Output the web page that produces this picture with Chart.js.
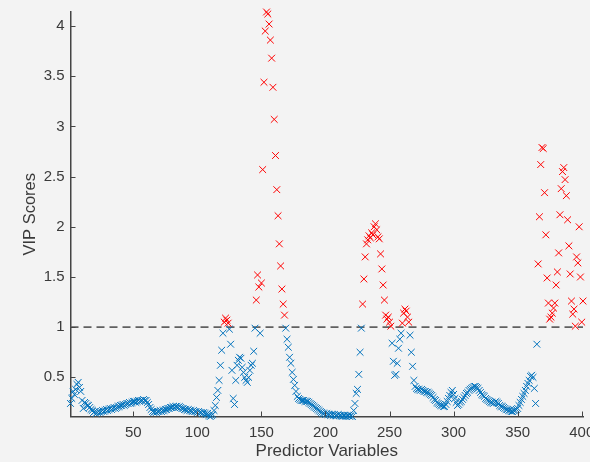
<!DOCTYPE html>
<html lang="en">
<head>
<meta charset="UTF-8">
<title>VIP Scores</title>
<style>
  html, body { margin: 0; padding: 0; background: #f3f3f3; }
  canvas { display: block; }
</style>
</head>
<body>
<canvas id="canvas" width="590" height="462"></canvas>

<script src="https://cdn.jsdelivr.net/npm/chart.js@4.4.1/dist/chart.umd.min.js"></script>
<script>
// VIP score of each predictor variable (index 1..401)
const vip = [
  0.24, 0.29, 0.36, 0.33, 0.38, 0.43, 0.45, 0.40, 0.36, 0.27,
  0.19, 0.25, 0.24, 0.22, 0.22, 0.20, 0.18, 0.17, 0.15, 0.16,
  0.14, 0.15, 0.16, 0.15, 0.16, 0.17, 0.16, 0.17, 0.18, 0.17,
  0.18, 0.19, 0.18, 0.19, 0.20, 0.19, 0.20, 0.21, 0.21, 0.22,
  0.22, 0.23, 0.22, 0.23, 0.24, 0.24, 0.25, 0.24, 0.25, 0.26,
  0.26, 0.25, 0.26, 0.27, 0.26, 0.27, 0.27, 0.28, 0.27, 0.27,
  0.25, 0.23, 0.20, 0.18, 0.16, 0.15, 0.16, 0.15, 0.16, 0.16,
  0.17, 0.16, 0.17, 0.17, 0.18, 0.18, 0.19, 0.19, 0.20, 0.20,
  0.21, 0.20, 0.21, 0.21, 0.20, 0.21, 0.20, 0.19, 0.19, 0.18,
  0.18, 0.17, 0.18, 0.17, 0.17, 0.16, 0.17, 0.16, 0.16, 0.15,
  0.16, 0.15, 0.15, 0.14, 0.15, 0.14, 0.13, 0.14, 0.12, 0.11,
  0.12, 0.13, 0.17, 0.22, 0.30, 0.37, 0.47, 0.62, 0.77, 0.94,
  1.05, 1.09, 1.07, 1.04, 0.98, 0.83, 0.57, 0.29, 0.23, 0.47,
  0.62, 0.67, 0.70, 0.69, 0.60, 0.55, 0.50, 0.47, 0.45, 0.50,
  0.57, 0.62, 0.64, 0.76, 0.99, 1.27, 1.52, 1.40, 0.94, 1.44,
  2.57, 3.44, 3.95, 4.14, 4.12, 4.02, 3.86, 3.68, 3.39, 3.07,
  2.71, 2.37, 2.11, 1.83, 1.61, 1.38, 1.23, 1.12, 0.99, 0.88,
  0.80, 0.70, 0.64, 0.55, 0.48, 0.42, 0.36, 0.31, 0.29, 0.28,
  0.27, 0.27, 0.27, 0.26, 0.26, 0.26, 0.25, 0.24, 0.23, 0.22,
  0.21, 0.20, 0.19, 0.18, 0.17, 0.16, 0.15, 0.14, 0.14, 0.13,
  0.14, 0.13, 0.13, 0.12, 0.13, 0.12, 0.13, 0.12, 0.12, 0.13,
  0.12, 0.12, 0.11, 0.12, 0.12, 0.11, 0.12, 0.12, 0.11, 0.12,
  0.11, 0.17, 0.24, 0.34, 0.38, 0.53, 0.75, 0.99, 1.23, 1.48,
  1.70, 1.83, 1.87, 1.91, 1.89, 1.94, 1.92, 2.00, 2.03, 1.97,
  1.90, 1.88, 1.73, 1.58, 1.42, 1.27, 1.12, 1.08, 1.10, 1.05,
  1.01, 0.84, 0.66, 0.52, 0.53, 0.64, 0.79, 0.88, 0.94, 1.04,
  1.14, 1.18, 1.16, 1.10, 1.05, 0.92, 0.75, 0.61, 0.47, 0.41,
  0.39, 0.38, 0.38, 0.37, 0.38, 0.37, 0.36, 0.36, 0.35, 0.35,
  0.34, 0.33, 0.32, 0.30, 0.28, 0.27, 0.25, 0.24, 0.23, 0.22,
  0.22, 0.21, 0.21, 0.23, 0.26, 0.29, 0.32, 0.35, 0.37, 0.33,
  0.29, 0.25, 0.22, 0.23, 0.25, 0.26, 0.28, 0.30, 0.32, 0.34,
  0.35, 0.37, 0.38, 0.39, 0.40, 0.41, 0.41, 0.40, 0.39, 0.37,
  0.35, 0.33, 0.32, 0.31, 0.29, 0.28, 0.27, 0.26, 0.25, 0.25,
  0.24, 0.25, 0.26, 0.25, 0.24, 0.22, 0.21, 0.21, 0.20, 0.19,
  0.18, 0.18, 0.17, 0.17, 0.16, 0.16, 0.17, 0.17, 0.18, 0.19,
  0.22, 0.25, 0.28, 0.31, 0.34, 0.37, 0.41, 0.44, 0.47, 0.51,
  0.52, 0.50, 0.39, 0.24, 0.83, 1.63, 2.10, 2.62, 2.79, 2.78,
  2.34, 1.92, 1.49, 1.24, 1.08, 1.10, 1.14, 1.19, 1.24, 1.42,
  1.55, 1.74, 2.12, 2.38, 2.55, 2.59, 2.47, 2.31, 2.07, 1.81,
  1.53, 1.26, 1.13, 1.18, 1.01, 1.70, 1.64, 2.00, 1.50, 1.05,
  1.26
];
const threshold = 1;
const xTicks = [50, 100, 150, 200, 250, 300, 350, 400];
const yTicks = [0.5, 1, 1.5, 2, 2.5, 3, 3.5, 4];

const axisColor = '#444444';
const textColor = '#3a3a3a';
const fontFamily = '"Liberation Sans", Arial, Helvetica, sans-serif';

// split into below / above threshold
const below = [], above = [];
vip.forEach((v, i) => {
  (v >= threshold ? above : below).push({ x: i + 1, y: v });
});

// MATLAB style ticks pointing into the axes
const inwardTicks = {
  id: 'inwardTicks',
  afterDraw(chart) {
    const { ctx, chartArea: a, scales: { x, y } } = chart;
    ctx.save();
    ctx.strokeStyle = axisColor;
    ctx.lineWidth = 1;
    ctx.beginPath();
    xTicks.forEach(v => {
      const px = Math.round(x.getPixelForValue(v)) + 0.5;
      ctx.moveTo(px, a.bottom);
      ctx.lineTo(px, a.bottom - 5);
    });
    yTicks.forEach(v => {
      const py = Math.round(y.getPixelForValue(v)) + 0.5;
      ctx.moveTo(a.left, py);
      ctx.lineTo(a.left + 5, py);
    });
    ctx.stroke();
    ctx.restore();
  }
};

const ctx = document.getElementById('canvas').getContext('2d');
new Chart(ctx, {
  type: 'scatter',
  data: {
    datasets: [
      {
        label: 'VIP > 1',
        data: above,
        pointStyle: 'crossRot',
        pointRadius: 4.8,
        pointBorderWidth: 1,
        borderColor: '#ff0000',
        backgroundColor: '#ff0000',
        order: 0,
        clip: false
      },
      {
        label: 'VIP',
        data: below,
        pointStyle: 'crossRot',
        pointRadius: 4.8,
        pointBorderWidth: 1,
        borderColor: '#0072bd',
        backgroundColor: '#0072bd',
        order: 1,
        clip: false
      },
      {
        type: 'line',
        label: 'threshold',
        data: [{ x: 1, y: threshold }, { x: vip.length, y: threshold }],
        borderColor: '#606060',
        borderWidth: 1.8,
        borderDash: [8, 5],
        pointRadius: 0,
        order: 2
      }
    ]
  },
  options: {
    responsive: false,
    animation: false,
    devicePixelRatio: 1,
    layout: {
      autoPadding: false,
      padding: { top: 12, right: 7, left: 0, bottom: 0 }
    },
    plugins: {
      legend: { display: false },
      tooltip: { enabled: false }
    },
    scales: {
      x: {
        type: 'linear',
        min: 1,
        max: vip.length,
        afterBuildTicks: s => { s.ticks = xTicks.map(v => ({ value: v })); },
        afterFit: s => { s.height = 45.5; s.paddingLeft = 0; s.paddingRight = 0; },
        grid: { display: false, drawTicks: false },
        border: { display: true, color: axisColor, width: 1.5 },
        ticks: {
          autoSkip: false,
          maxRotation: 0,
          padding: 7,
          color: textColor,
          font: { family: fontFamily, size: 15 },
          callback: v => String(v)
        },
        title: {
          display: true,
          text: 'Predictor Variables',
          color: textColor,
          font: { family: fontFamily, size: 17 },
          padding: { top: 0, bottom: 0 }
        }
      },
      y: {
        type: 'linear',
        min: Math.min(...vip),
        max: Math.max(...vip),
        afterBuildTicks: s => { s.ticks = yTicks.map(v => ({ value: v })); },
        afterFit: s => { s.width = 70.5; s.paddingTop = 0; s.paddingBottom = 0; },
        grid: { display: false, drawTicks: false },
        border: { display: true, color: axisColor, width: 1.5 },
        ticks: {
          padding: 6,
          color: textColor,
          font: { family: fontFamily, size: 15 },
          callback: v => String(v)
        },
        title: {
          display: true,
          text: 'VIP Scores',
          color: textColor,
          font: { family: fontFamily, size: 16.5 },
          padding: { top: 21, bottom: 0 }
        }
      }
    }
  },
  plugins: [inwardTicks]
});
</script>
</body>
</html>
